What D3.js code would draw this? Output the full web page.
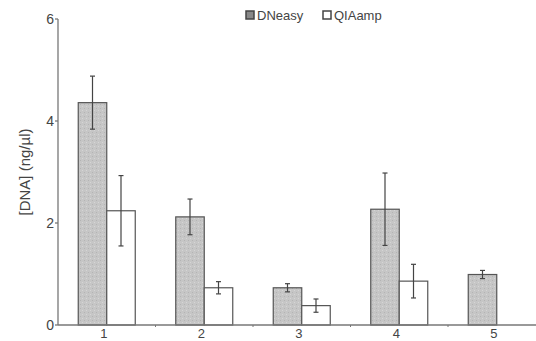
<!DOCTYPE html>
<html><head><meta charset="utf-8">
<script src="https://cdnjs.cloudflare.com/ajax/libs/d3/7.8.5/d3.min.js"></script>
<style>body{margin:0;background:#fff}svg{display:block;font-family:"Liberation Sans",Arial,sans-serif}</style>
</head><body>
<svg id="c" width="536" height="341"></svg>
<script>
const categories = ["1","2","3","4","5"];
const seriesNames = ["DNeasy","QIAamp"];
const dneasy = [4.36, 2.12, 0.73, 2.27, 0.99];
const dneasyErr = [0.52, 0.35, 0.08, 0.71, 0.08];
const qiaamp = [2.24, 0.73, 0.38, 0.86, null];
const qiaampErr = [0.69, 0.12, 0.13, 0.33, null];
const yTicks = [0, 2, 4, 6];

(function(){
const svg = d3.select("#c");
const mLeft = 58, mBottom = 325, mTop = 19;
const x = d3.scaleBand().domain(categories).range([mLeft, mLeft + 5 * 97.5]).paddingInner(0).paddingOuter(0);
const y = d3.scaleLinear().domain([0, 6]).range([mBottom, mTop]);
const barW = 28.5;

const defs = svg.append("defs");
const pat = defs.append("pattern").attr("id","stip").attr("width",4).attr("height",4).attr("patternUnits","userSpaceOnUse");
pat.append("rect").attr("width",4).attr("height",4).attr("fill","#c6c6c6");
pat.append("rect").attr("x",0).attr("y",0).attr("width",1).attr("height",1).attr("fill","#b4b4b4");
pat.append("rect").attr("x",2).attr("y",2).attr("width",1).attr("height",1).attr("fill","#d6d6d6");

const axisCol = "#777";
svg.append("line").attr("x1",mLeft).attr("x2",mLeft).attr("y1",y(6)).attr("y2",y(0)).attr("stroke",axisCol).attr("stroke-width",1.3);
yTicks.forEach(t => {
  svg.append("line").attr("x1",mLeft-3).attr("x2",mLeft).attr("y1",y(t)).attr("y2",y(t)).attr("stroke",axisCol).attr("stroke-width",1.3);
  svg.append("text").attr("x",mLeft-4).attr("y",y(t)+5).attr("text-anchor","end").attr("font-size",14).attr("fill","#444").text(t);
});
svg.append("text").attr("transform",`translate(30,${(y(6)+y(0))/2}) rotate(-90)`).attr("text-anchor","middle").attr("font-size",15).attr("fill","#444").text("[DNA] (ng/µl)");

const cx = c => x(c) + x.bandwidth()/2;
function drawSeries(vals, errs, offset, fill) {
  categories.forEach((c,i) => {
    if (vals[i] == null) return;
    const x0 = cx(c) + offset;
    svg.append("rect").attr("x",x0).attr("y",y(vals[i])).attr("width",barW).attr("height",y(0)-y(vals[i]))
      .attr("fill",fill).attr("stroke","#555").attr("stroke-width",1.2);
    const mx = x0 + barW/2;
    const hi = y(vals[i]+errs[i]), lo = y(vals[i]-errs[i]);
    svg.append("line").attr("x1",mx).attr("x2",mx).attr("y1",hi).attr("y2",lo).attr("stroke","#444").attr("stroke-width",1.2);
    [hi,lo].forEach(yy => svg.append("line").attr("x1",mx-2.5).attr("x2",mx+2.5).attr("y1",yy).attr("y2",yy).attr("stroke","#444").attr("stroke-width",1.2));
  });
}
drawSeries(dneasy, dneasyErr, -barW, "url(#stip)");
drawSeries(qiaamp, qiaampErr, 0, "#fff");

svg.append("line").attr("x1",mLeft).attr("x2",536).attr("y1",mBottom).attr("y2",mBottom).attr("stroke",axisCol).attr("stroke-width",1.3);
categories.forEach((c,i) => {
  if (i > 0) svg.append("line").attr("x1",x(c)).attr("x2",x(c)).attr("y1",mBottom).attr("y2",mBottom+2).attr("stroke",axisCol);
  svg.append("text").attr("x",cx(c)-3).attr("y",mBottom+13).attr("text-anchor","middle").attr("font-size",13).attr("fill","#444").text(c);
});

const lg = [{n:seriesNames[0], f:"#888", x:246},{n:seriesNames[1], f:"#fff", x:323}];
lg.forEach(d => {
  svg.append("rect").attr("x",d.x).attr("y",11).attr("width",8).attr("height",8).attr("fill",d.f).attr("stroke","#444").attr("stroke-width",1.5);
  svg.append("text").attr("x",d.x+11).attr("y",19.5).attr("font-size",13).attr("fill","#444").text(d.n);
});
})();
</script>
</body></html>
